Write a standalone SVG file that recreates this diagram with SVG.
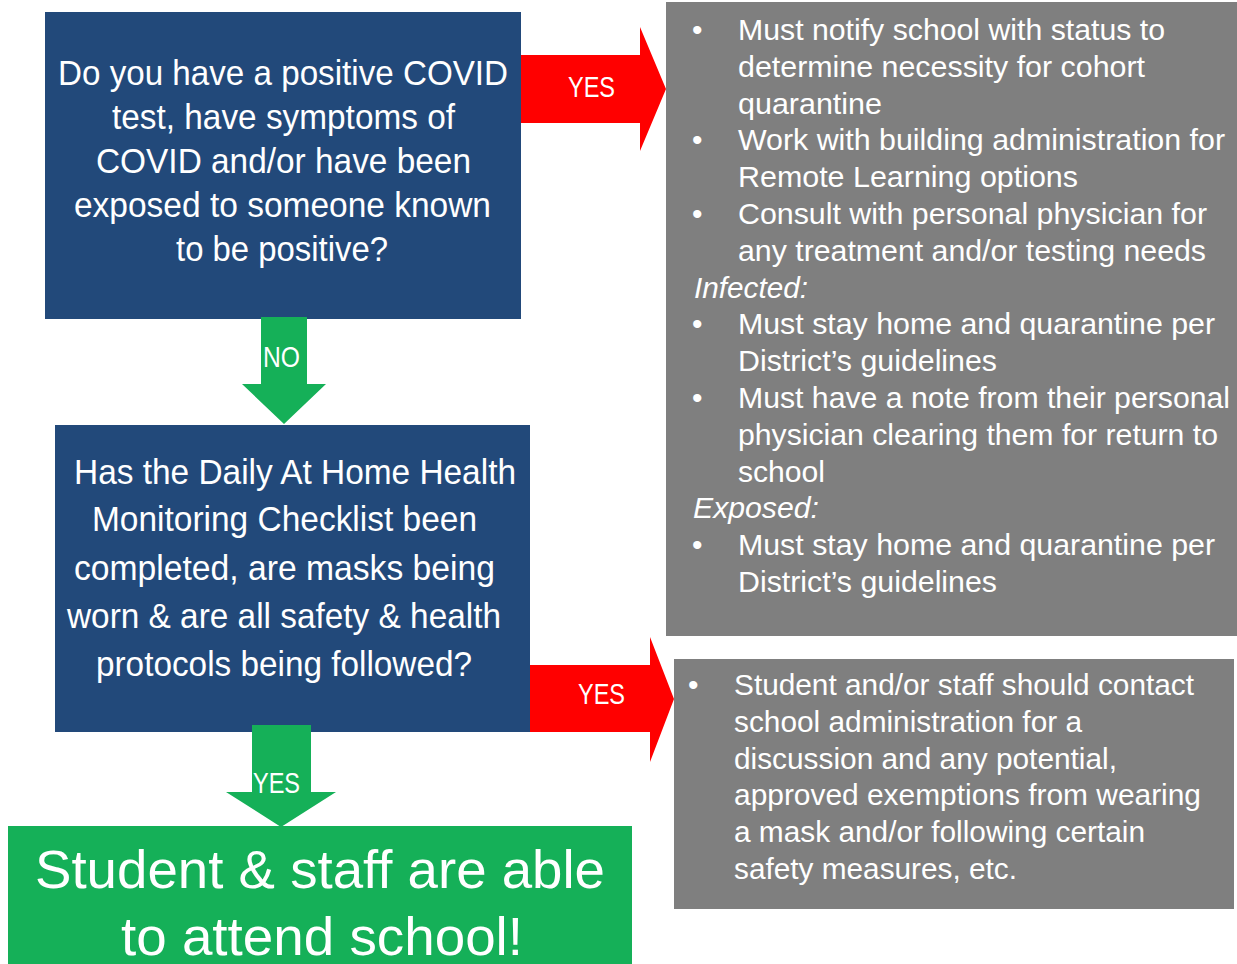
<svg xmlns="http://www.w3.org/2000/svg" width="1237" height="964" viewBox="0 0 1237 964">
  <style>
    text { font-family: "Liberation Sans", Arial, sans-serif; fill: #ffffff; }
    .q { font-size: 35px; }
    .info { font-size: 30px; }
    .it { font-style: italic; }
    .lbl { font-size: 30px; }
    .big { font-size: 54px; }
    .blue { fill: #22497a; }
    .gray { fill: #7f7f7f; }
    .green { fill: #15b058; }
    .red { fill: #ff0000; }
  </style>
  <rect width="1237" height="964" fill="#ffffff"/>

  <!-- Question 1 -->
  <g id="q-covid">
    <rect class="blue" x="45" y="12" width="476" height="307"/>
    <text class="q" x="58" y="85" textLength="450" lengthAdjust="spacingAndGlyphs">Do you have a positive COVID</text>
    <text class="q" x="112" y="129" textLength="343" lengthAdjust="spacingAndGlyphs">test, have symptoms of</text>
    <text class="q" x="96" y="173" textLength="375" lengthAdjust="spacingAndGlyphs">COVID and/or have been</text>
    <text class="q" x="74" y="217" textLength="417" lengthAdjust="spacingAndGlyphs">exposed to someone known</text>
    <text class="q" x="176" y="261" textLength="212" lengthAdjust="spacingAndGlyphs">to be positive?</text>
  </g>

  <!-- Actions when positive / exposed -->
  <g id="info-positive">
    <rect class="gray" x="666" y="2" width="571" height="634"/>
    <g class="info">
      <text x="692" y="40">•</text>
      <text x="738" y="40" textLength="427" lengthAdjust="spacingAndGlyphs">Must notify school with status to</text>
      <text x="738" y="76.8" textLength="407" lengthAdjust="spacingAndGlyphs">determine necessity for cohort</text>
      <text x="738" y="113.6" textLength="144" lengthAdjust="spacingAndGlyphs">quarantine</text>
      <text x="692" y="150.4">•</text>
      <text x="738" y="150.4" textLength="487" lengthAdjust="spacingAndGlyphs">Work with building administration for</text>
      <text x="738" y="187.2" textLength="340" lengthAdjust="spacingAndGlyphs">Remote Learning options</text>
      <text x="692" y="224">•</text>
      <text x="738" y="224" textLength="469" lengthAdjust="spacingAndGlyphs">Consult with personal physician for</text>
      <text x="738" y="260.8" textLength="468" lengthAdjust="spacingAndGlyphs">any treatment and/or testing needs</text>
      <text class="it" x="694" y="297.6" textLength="114" lengthAdjust="spacingAndGlyphs">Infected:</text>
      <text x="692" y="334.4">•</text>
      <text x="738" y="334.4" textLength="477" lengthAdjust="spacingAndGlyphs">Must stay home and quarantine per</text>
      <text x="738" y="371.2" textLength="259" lengthAdjust="spacingAndGlyphs">District’s guidelines</text>
      <text x="692" y="408">•</text>
      <text x="738" y="408" textLength="492" lengthAdjust="spacingAndGlyphs">Must have a note from their personal</text>
      <text x="738" y="444.8" textLength="480" lengthAdjust="spacingAndGlyphs">physician clearing them for return to</text>
      <text x="738" y="481.6" textLength="87" lengthAdjust="spacingAndGlyphs">school</text>
      <text class="it" x="693" y="518.4" textLength="126" lengthAdjust="spacingAndGlyphs">Exposed:</text>
      <text x="692" y="555.2">•</text>
      <text x="738" y="555.2" textLength="477" lengthAdjust="spacingAndGlyphs">Must stay home and quarantine per</text>
      <text x="738" y="592" textLength="259" lengthAdjust="spacingAndGlyphs">District’s guidelines</text>
    </g>
  </g>

  <!-- Question 2 -->
  <g id="q-checklist">
    <rect class="blue" x="55" y="425" width="475" height="307"/>
    <text class="q" x="74" y="484" textLength="442" lengthAdjust="spacingAndGlyphs">Has the Daily At Home Health</text>
    <text class="q" x="92" y="531" textLength="385" lengthAdjust="spacingAndGlyphs">Monitoring Checklist been</text>
    <text class="q" x="74" y="580" textLength="421" lengthAdjust="spacingAndGlyphs">completed, are masks being</text>
    <text class="q" x="67" y="628" textLength="434" lengthAdjust="spacingAndGlyphs">worn &amp; are all safety &amp; health</text>
    <text class="q" x="96" y="676" textLength="376" lengthAdjust="spacingAndGlyphs">protocols being followed?</text>
  </g>

  <!-- Exemption note -->
  <g id="info-exemption">
    <rect class="gray" x="674" y="659" width="560" height="250"/>
    <g class="info">
      <text x="688" y="695">•</text>
      <text x="734" y="695" textLength="460" lengthAdjust="spacingAndGlyphs">Student and/or staff should contact</text>
      <text x="734" y="731.8" textLength="348" lengthAdjust="spacingAndGlyphs">school administration for a</text>
      <text x="734" y="768.6" textLength="383" lengthAdjust="spacingAndGlyphs">discussion and any potential,</text>
      <text x="734" y="805.4" textLength="467" lengthAdjust="spacingAndGlyphs">approved exemptions from wearing</text>
      <text x="734" y="842.2" textLength="411" lengthAdjust="spacingAndGlyphs">a mask and/or following certain</text>
      <text x="734" y="879" textLength="283" lengthAdjust="spacingAndGlyphs">safety measures, etc.</text>
    </g>
  </g>

  <!-- Outcome -->
  <g id="attend">
    <rect class="green" x="8" y="826" width="624" height="140"/>
    <text class="big" x="320" y="888" text-anchor="middle" textLength="570" lengthAdjust="spacingAndGlyphs">Student &amp; staff are able</text>
    <text class="big" x="322" y="955" text-anchor="middle" textLength="402" lengthAdjust="spacingAndGlyphs">to attend school!</text>
  </g>

  <!-- Block arrows between steps -->
  <g id="connectors">
    <polygon class="red" points="521,55 640,55 640,27 666,89 640,151 640,123 521,123"/>
    <text class="lbl" x="568" y="96.5" textLength="47" lengthAdjust="spacingAndGlyphs">YES</text>

    <polygon class="green" points="261,317 307,317 307,384 326,384 284,424 242,384 261,384"/>
    <text class="lbl" x="263" y="366.5" textLength="37" lengthAdjust="spacingAndGlyphs">NO</text>

    <polygon class="red" points="530,665 650,665 650,637 674,699 650,762 650,732 530,732"/>
    <text class="lbl" x="578" y="703.5" textLength="47" lengthAdjust="spacingAndGlyphs">YES</text>

    <polygon class="green" points="252,725 311,725 311,792 336,792 281,827 226,792 252,792"/>
    <text class="lbl" x="253" y="792.5" textLength="47" lengthAdjust="spacingAndGlyphs">YES</text>
  </g>
</svg>
